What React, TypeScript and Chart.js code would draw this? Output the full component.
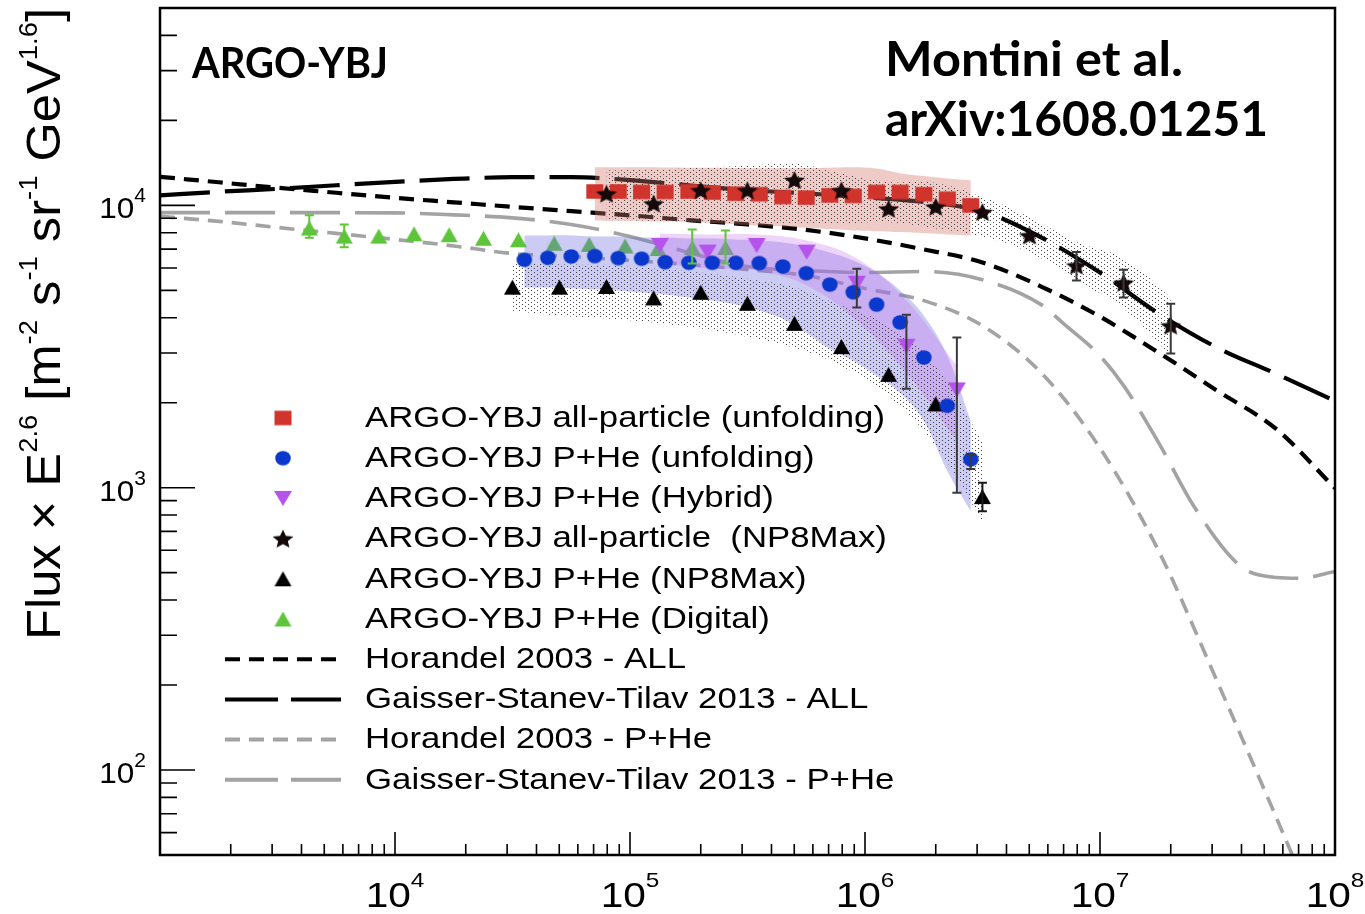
import React, { useEffect, useRef } from "react";
import { Chart, registerables } from "chart.js";

Chart.register(...registerables);

const W = 1365;
const H = 914;

// ---------- axis ranges ----------
const X_MIN = 1e3;
const X_MAX = 1e8;
const Y_MIN = 50;
const Y_MAX = 5e4;
const xDecades = [4, 5, 6, 7, 8];
const yDecades = [2, 3, 4];

// ---------- model curves (E in GeV, Flux × E^2.6) ----------
const modelE = [1e3, 1.78e3, 3.16e3, 5.62e3, 1e4, 1.78e4, 3.16e4, 5.62e4, 1e5, 1.78e5, 3.16e5, 5.62e5, 1e6, 1.78e6, 3.16e6, 5.62e6, 1e7, 1.78e7, 3.16e7, 5.62e7, 1e8];
const horandelAll = [12620, 12070, 11540, 11080, 10630, 10250, 9880, 9540, 9215, 8860, 8560, 8185, 7636, 6980, 6275, 5156, 4034, 3005, 2202, 1614, 996];
const gstAll = [10850, 11170, 11440, 11780, 12110, 12400, 12580, 12580, 12290, 11780, 11310, 11030, 10670, 10290, 9520, 7695, 5780, 4133, 3130, 2531, 2029];
const horandelPHe = [9140, 8775, 8350, 7955, 7573, 7180, 6753, 6590, 6378, 6172, 5925, 5641, 5073, 4598, 3748, 2551, 1381, 595, 205, 68, 22];
const gstPHeE = [1e3, 1.78e3, 3.16e3, 5.62e3, 1e4, 1.78e4, 3.16e4, 5.62e4, 1e5, 1.78e5, 3.16e5, 5.62e5, 1e6, 1.78e6, 3.16e6, 5.62e6, 7.08e6, 1e7, 1.26e7, 1.78e7, 2.51e7, 3.98e7, 5.62e7, 7.08e7, 1e8];
const gstPHe = [9420, 9420, 9420, 9420, 9405, 9254, 9030, 8560, 7760, 6808, 6072, 5876, 5781, 5829, 5450, 4450, 3777, 2930, 2300, 1439, 859, 526, 481, 478, 505];

// ---------- ARGO-YBJ all-particle (unfolding) ----------
const allUnfoldE = [7.08e4, 8.91e4, 1.12e5, 1.41e5, 1.78e5, 2.24e5, 2.82e5, 3.55e5, 4.47e5, 5.62e5, 7.08e5, 8.91e5, 1.12e6, 1.41e6, 1.78e6, 2.24e6, 2.82e6];
const allUnfoldF = [11200, 11200, 11150, 11150, 11200, 11100, 11000, 10950, 10700, 10650, 10850, 10800, 11150, 11150, 10950, 10550, 10000];
const allUnfoldHi = [13640, 13640, 13640, 13620, 13600, 13580, 13560, 13530, 13530, 13560, 13600, 13640, 13500, 13000, 12700, 12450, 12270];
const allUnfoldLo = [8845, 8820, 8790, 8760, 8723, 8650, 8560, 8480, 8421, 8330, 8240, 8152, 8100, 8040, 7960, 7890, 7823];

// ---------- ARGO-YBJ P+He (unfolding) ----------
const pheUnfoldE = [3.55e4, 4.47e4, 5.62e4, 7.08e4, 8.91e4, 1.12e5, 1.41e5, 1.78e5, 2.24e5, 2.82e5, 3.55e5, 4.47e5, 5.62e5, 7.08e5, 8.91e5, 1.12e6, 1.41e6, 1.78e6, 2.24e6, 2.82e6];
const pheUnfoldF = [6410, 6520, 6590, 6610, 6500, 6470, 6290, 6260, 6260, 6260, 6240, 6070, 5750, 5240, 4920, 4450, 3850, 2890, 1950, 1260];
const pheUnfoldHi = [7823, 7823, 7823, 7760, 7760, 7696, 7696, 7634, 7634, 7572, 7510, 7390, 7150, 6810, 6377, 5780, 4990, 4066, 2932, 1722];
const pheUnfoldLo = [5113, 5113, 5073, 5031, 4990, 4909, 4830, 4712, 4598, 4450, 4236, 3968, 3538, 3105, 2813, 2489, 2167, 1722, 1145, 825];
const pheUnfoldErrHi = [null, null, null, null, null, null, null, null, null, null, null, null, null, null, null, null, null, null, null, 1315];
const pheUnfoldErrLo = [null, null, null, null, null, null, null, null, null, null, null, null, null, null, null, null, null, null, null, 1164];

// ---------- ARGO-YBJ P+He (Hybrid) ----------
const hybridE = [1.34e5, 2.14e5, 3.46e5, 5.65e5, 9.23e5, 1.50e6, 2.46e6];
const hybridF = [7210, 6830, 7210, 6830, 5300, 3170, 2220];
const hybridHi = [7954, 7890, 7890, 7510, 6480, 4598, 2702];
const hybridLo = [6272, 5972, 5880, 5197, 3904, 2551, 1463];
const hybridErrHi = [null, null, null, null, 5960, 4100, 3400];
const hybridErrLo = [null, null, null, null, 4350, 2240, 960];

// ---------- ARGO-YBJ all-particle (NP8Max) ----------
const allNp8E = [7.94e4, 1.26e5, 2.0e5, 3.16e5, 5.01e5, 7.94e5, 1.26e6, 2.0e6, 3.16e6, 5.01e6, 7.94e6, 1.26e7, 2.0e7];
const allNp8F = [11000, 10150, 11300, 11300, 12300, 11300, 9730, 9890, 9470, 7820, 6120, 5320, 3750];
const allNp8Hi = [13310, 13400, 13600, 13800, 14060, 12960, 12100, 12000, 10700, 9090, 7410, 6490, 4720];
const allNp8Lo = [8850, 8800, 8700, 8650, 8610, 8620, 8720, 8280, 7760, 6820, 5420, 4300, 2930];
const allNp8ErrHi = [null, null, null, null, null, null, null, null, null, null, 6830, 5910, 4480];
const allNp8ErrLo = [null, null, null, null, null, null, null, null, null, null, 5420, 4720, 2990];

// ---------- ARGO-YBJ P+He (NP8Max) ----------
const pheNp8E = [3.16e4, 5.01e4, 7.94e4, 1.26e5, 2.0e5, 3.16e5, 5.01e5, 7.94e5, 1.26e6, 2.0e6, 3.16e6];
const pheNp8F = [5130, 5130, 5160, 4700, 4920, 4500, 3820, 3160, 2520, 1980, 930];
const pheNp8Hi = [6223, 6180, 6120, 5980, 5780, 5500, 5120, 4415, 3750, 2700, 1465];
const pheNp8Lo = [4236, 4066, 3970, 3840, 3660, 3420, 3130, 2700, 2110, 1405, 760];
const pheNp8ErrHi = [null, null, null, null, null, null, null, null, null, null, 1040];
const pheNp8ErrLo = [null, null, null, null, null, null, null, null, null, null, 825];

// ---------- ARGO-YBJ P+He (Digital) ----------
const digitalE = [4.32e3, 6.08e3, 8.53e3, 1.205e4, 1.70e4, 2.38e4, 3.35e4, 4.76e4, 6.70e4, 9.53e4, 1.315e5, 1.84e5, 2.55e5];
const digitalF = [8310, 7780, 7780, 7930, 7870, 7650, 7550, 7340, 7270, 7180, 7030, 7090, 7090];
const digitalErrHi = [9220, 8560, null, null, null, null, null, null, null, null, null, 8220, 8150];
const digitalErrLo = [7680, 7110, null, null, null, null, null, null, null, null, null, 6220, 6220];

// ---------- legend ----------
const legendLabels = [
  "ARGO-YBJ all-particle (unfolding)",
  "ARGO-YBJ P+He (unfolding)",
  "ARGO-YBJ P+He (Hybrid)",
  "ARGO-YBJ all-particle  (NP8Max)",
  "ARGO-YBJ P+He (NP8Max)",
  "ARGO-YBJ P+He (Digital)",
  "Horandel 2003 - ALL",
  "Gaisser-Stanev-Tilav 2013 - ALL",
  "Horandel 2003 - P+He",
  "Gaisser-Stanev-Tilav 2013 - P+He",
];

const RED = "#d0342c";
const BLUE = "#0a37cc";
const PURPLE = "#b653ec";
const GREEN = "#5ec43a";
const BLACK = "#140808";
const GRAY = "#a3a3a3";
const SANS = '"Liberation Sans", Arial, Helvetica, sans-serif';
const CAL = 'Lato, "Open Sans", sans-serif';

const SHORT_DASH = [15, 9];
const LONG_DASH = [50, 15];

type Shape = "square" | "circle" | "up" | "down" | "star";

function makeMarker(shape: Shape, w: number, h: number, color: string): HTMLCanvasElement {
  const c = document.createElement("canvas");
  c.width = Math.ceil(w) + 2;
  c.height = Math.ceil(h) + 2;
  const g = c.getContext("2d")!;
  g.fillStyle = color;
  const cx = c.width / 2;
  const cy = c.height / 2;
  g.beginPath();
  if (shape === "square") {
    g.rect(cx - w / 2, cy - h / 2, w, h);
  } else if (shape === "circle") {
    g.ellipse(cx, cy, w / 2, h / 2, 0, 0, Math.PI * 2);
  } else if (shape === "up") {
    g.moveTo(cx, cy - h / 2);
    g.lineTo(cx + w / 2, cy + h / 2);
    g.lineTo(cx - w / 2, cy + h / 2);
  } else if (shape === "down") {
    g.moveTo(cx - w / 2, cy - h / 2);
    g.lineTo(cx + w / 2, cy - h / 2);
    g.lineTo(cx, cy + h / 2);
  } else {
    for (let i = 0; i < 10; i++) {
      const r = i % 2 === 0 ? 1 : 0.46;
      const a = -Math.PI / 2 + (i * Math.PI) / 5;
      g.lineTo(cx + (r * w * Math.cos(a)) / 2, cy + (r * h * Math.sin(a)) / 2 + h * 0.05);
    }
  }
  g.closePath();
  g.fill();
  return c;
}

function makeStipple(ctx: CanvasRenderingContext2D): CanvasPattern {
  const c = document.createElement("canvas");
  c.width = 6;
  c.height = 4;
  const g = c.getContext("2d")!;
  g.fillStyle = "rgba(40,40,40,0.85)";
  g.fillRect(0, 0, 1, 1);
  g.fillRect(3, 2, 1, 1);
  return ctx.createPattern(c, "repeat")!;
}

const pts = (xs: number[], ys: number[]) => xs.map((x, i) => ({ x, y: ys[i] }));

function band(hi: any[], lo: any[], fill: any, order: number) {
  const common = {
    borderWidth: 0,
    borderColor: "rgba(0,0,0,0)",
    pointRadius: 0,
    tension: 0.4,
    order,
  };
  return [
    { ...common, data: hi, fill: "+1", backgroundColor: fill },
    { ...common, data: lo, fill: false },
  ];
}

function modelLine(data: any[], color: string, dash: number[], width: number) {
  return {
    data,
    borderColor: color,
    borderWidth: width,
    borderDash: dash,
    pointRadius: 0,
    fill: false,
    cubicInterpolationMode: "monotone",
    order: 50,
  };
}

function markerSet(data: any[], img: HTMLCanvasElement, order: number) {
  return {
    data,
    showLine: false,
    pointStyle: img,
    pointRadius: 6,
    fill: false,
    order,
  };
}

// text drawn with an optional horizontal stretch
function stretchText(ctx: CanvasRenderingContext2D, text: string, x: number, y: number, font: string, sx: number) {
  ctx.save();
  ctx.font = font;
  ctx.translate(x, y);
  ctx.scale(sx, 1);
  ctx.fillText(text, 0, 0);
  ctx.restore();
}

function fitText(ctx: CanvasRenderingContext2D, text: string, x: number, y: number, font: string, width: number) {
  ctx.save();
  ctx.font = font;
  const m = ctx.measureText(text).width;
  ctx.restore();
  stretchText(ctx, text, x, y, font, width / m);
}

// "10" with exponent; anchor is the horizontal center or right edge of the whole label
function powerLabel(
  ctx: CanvasRenderingContext2D,
  exp: string,
  x: number,
  baseY: number,
  size: number,
  supSize: number,
  supY: number,
  sx: number,
  anchor: "center" | "right"
) {
  ctx.save();
  ctx.font = `${size}px ${SANS}`;
  const wb = ctx.measureText("10").width * sx;
  ctx.font = `${supSize}px ${SANS}`;
  const we = ctx.measureText(exp).width * sx;
  ctx.restore();
  const total = wb + we;
  const x0 = anchor === "center" ? x - total / 2 : x - total;
  stretchText(ctx, "10", x0, baseY, `${size}px ${SANS}`, sx);
  stretchText(ctx, exp, x0 + wb, supY, `${supSize}px ${SANS}`, sx);
}

export default function App() {
  const ref = useRef<HTMLCanvasElement>(null);

  useEffect(() => {
    const canvas = ref.current!;
    const ctx = canvas.getContext("2d")!;
    const stipple = makeStipple(ctx);

    const mkSquare = makeMarker("square", 17, 14.5, RED);
    const mkCircle = makeMarker("circle", 15.5, 14.5, BLUE);
    const mkDown = makeMarker("down", 18, 15, PURPLE);
    const mkStar = makeMarker("star", 22, 20, BLACK);
    const mkBlackUp = makeMarker("up", 17, 15, "#000000");
    const mkGreenUp = makeMarker("up", 17, 15, GREEN);

    const errorGroups = [
      { e: allNp8E, hi: allNp8ErrHi, lo: allNp8ErrLo, color: "#3a3a3a" },
      { e: hybridE, hi: hybridErrHi, lo: hybridErrLo, color: "#3a3a3a" },
      { e: pheUnfoldE, hi: pheUnfoldErrHi, lo: pheUnfoldErrLo, color: "#3a3a3a" },
      { e: pheNp8E, hi: pheNp8ErrHi, lo: pheNp8ErrLo, color: "#1a1a1a" },
      { e: digitalE, hi: digitalErrHi, lo: digitalErrLo, color: GREEN },
    ];

    const decor = {
      id: "decor",
      afterDatasetsDraw(chart: any) {
        const c = chart.ctx as CanvasRenderingContext2D;
        const xs = chart.scales.x;
        const ys = chart.scales.y;
        c.save();
        c.lineWidth = 2;
        for (const g of errorGroups) {
          c.strokeStyle = g.color;
          g.e.forEach((e: number, i: number) => {
            const hi = g.hi[i];
            const lo = g.lo[i];
            if (hi == null || lo == null) return;
            const px = xs.getPixelForValue(e);
            const y1 = ys.getPixelForValue(hi);
            const y2 = ys.getPixelForValue(lo);
            c.beginPath();
            c.moveTo(px, y1);
            c.lineTo(px, y2);
            c.moveTo(px - 4.5, y1);
            c.lineTo(px + 4.5, y1);
            c.moveTo(px - 4.5, y2);
            c.lineTo(px + 4.5, y2);
            c.stroke();
          });
        }
        c.restore();
      },
      afterDraw(chart: any) {
        const c = chart.ctx as CanvasRenderingContext2D;
        const xs = chart.scales.x;
        const ys = chart.scales.y;
        const a = chart.chartArea;
        c.save();

        // frame
        c.strokeStyle = "#000";
        c.lineWidth = 2.5;
        c.strokeRect(a.left, a.top, a.right - a.left, a.bottom - a.top);

        // ticks, pointing into the frame
        c.lineWidth = 1.6;
        c.beginPath();
        for (let d = 1; d <= 4; d++) {
          for (let m = 1; m <= 9; m++) {
            const v = m * Math.pow(10, d);
            if (v < Y_MIN || v > Y_MAX) continue;
            const py = ys.getPixelForValue(v);
            c.moveTo(a.left, py);
            c.lineTo(a.left + (m === 1 ? 35 : 17), py);
          }
        }
        for (let d = 3; d <= 8; d++) {
          for (let m = 1; m <= 9; m++) {
            const v = m * Math.pow(10, d);
            if (v < X_MIN || v > X_MAX) continue;
            const px = xs.getPixelForValue(v);
            c.moveTo(px, a.bottom);
            c.lineTo(px, a.bottom - (m === 1 ? 23 : 11));
          }
        }
        c.stroke();

        // tick labels
        c.fillStyle = "#000";
        c.textBaseline = "alphabetic";
        for (const d of xDecades) {
          const px = xs.getPixelForValue(Math.pow(10, d));
          powerLabel(c, String(d), px, 907, 35, 21, 887, 1.16, "center");
        }
        for (const d of yDecades) {
          const py = ys.getPixelForValue(Math.pow(10, d));
          powerLabel(c, String(d), 146, py + 13, 30, 20, py - 3, 1.05, "right");
        }

        // axis title, rotated
        {
          const parts: { t: string; sup?: boolean }[] = [
            { t: "Flux × E" },
            { t: "2.6", sup: true },
            { t: " [m" },
            { t: "-2", sup: true },
            { t: " s" },
            { t: "-1", sup: true },
            { t: " sr" },
            { t: "-1", sup: true },
            { t: " GeV" },
            { t: "1.6", sup: true },
            { t: "]" },
          ];
          const big = `48px ${SANS}`;
          const small = `26px ${SANS}`;
          let total = 0;
          for (const p of parts) {
            c.font = p.sup ? small : big;
            total += c.measureText(p.t).width;
          }
          const sx = 632 / total;
          c.save();
          c.translate(60, 640);
          c.rotate(-Math.PI / 2);
          c.scale(sx, 1);
          let cx = 0;
          for (const p of parts) {
            c.font = p.sup ? small : big;
            c.fillText(p.t, cx, p.sup ? -23 : 0);
            cx += c.measureText(p.t).width;
          }
          c.restore();
        }

        // overlay titles
        fitText(c, "ARGO-YBJ", 192, 78, `bold 42px ${CAL}`, 196);
        fitText(c, "Montini et al.", 885, 76, `bold 47px ${CAL}`, 298);
        fitText(c, "arXiv:1608.01251", 885, 136, `bold 47px ${CAL}`, 383);

        // legend
        const legFont = `30px ${SANS}`;
        c.font = legFont;
        const legSx = 520 / c.measureText(legendLabels[0]).width;
        const markerImgs = [mkSquare, mkCircle, mkDown, mkStar, mkBlackUp, mkGreenUp];
        const lineStyles = [
          { color: "#000", dash: SHORT_DASH },
          { color: "#000", dash: [53, 13] },
          { color: GRAY, dash: SHORT_DASH },
          { color: GRAY, dash: [53, 13] },
        ];
        legendLabels.forEach((label, i) => {
          const cy = 418 + 40.2 * i;
          if (i < 6) {
            const img = markerImgs[i];
            c.drawImage(img, 283 - img.width / 2, cy - img.height / 2);
          } else {
            const s = lineStyles[i - 6];
            c.save();
            c.strokeStyle = s.color;
            c.lineWidth = 4;
            c.setLineDash(s.dash);
            c.beginPath();
            c.moveTo(225, cy);
            c.lineTo(341, cy);
            c.stroke();
            c.restore();
          }
          c.fillStyle = "#000";
          stretchText(c, label, 365, 426.7 + 40.2 * i, legFont, legSx);
        });

        c.restore();
      },
    };

    const datasets: any[] = [
      modelLine(pts(modelE, horandelAll), "#000", SHORT_DASH, 4.2),
      modelLine(pts(modelE, gstAll), "#000", LONG_DASH, 4.2),
      modelLine(pts(modelE, horandelPHe), GRAY, SHORT_DASH, 3.6),
      modelLine(pts(gstPHeE, gstPHe), GRAY, LONG_DASH, 3.6),
      markerSet(pts(digitalE, digitalF), mkGreenUp, 45),
      ...band(pts(allUnfoldE, allUnfoldHi), pts(allUnfoldE, allUnfoldLo), "rgba(212,118,108,0.38)", 40),
      ...band(pts(pheUnfoldE, pheUnfoldHi), pts(pheUnfoldE, pheUnfoldLo), "rgba(112,112,222,0.36)", 38),
      ...band(pts(hybridE, hybridHi), pts(hybridE, hybridLo), "rgba(200,110,240,0.30)", 37),
      ...band(pts(allNp8E, allNp8Hi), pts(allNp8E, allNp8Lo), stipple, 35),
      ...band(pts(pheNp8E, pheNp8Hi), pts(pheNp8E, pheNp8Lo), stipple, 34),
      markerSet(pts(pheNp8E, pheNp8F), mkBlackUp, 8),
      markerSet(pts(hybridE, hybridF), mkDown, 7),
      markerSet(pts(pheUnfoldE, pheUnfoldF), mkCircle, 6),
      markerSet(pts(allUnfoldE, allUnfoldF), mkSquare, 5),
      markerSet(pts(allNp8E, allNp8F), mkStar, 3),
    ];

    const chart = new Chart(canvas, {
      type: "line",
      data: { datasets },
      options: {
        responsive: false,
        animation: false,
        devicePixelRatio: 1,
        events: [],
        layout: { padding: { left: 160, right: 30, top: 8, bottom: 59 } },
        scales: {
          x: { type: "logarithmic", min: X_MIN, max: X_MAX, display: false },
          y: { type: "logarithmic", min: Y_MIN, max: Y_MAX, display: false },
        },
        plugins: {
          legend: { display: false },
          tooltip: { enabled: false },
        },
      },
      plugins: [decor],
    } as any);

    return () => chart.destroy();
  }, []);

  return (
    <div style={{ position: "fixed", left: 0, top: 0, width: W, height: H, background: "#fff" }}>
      <canvas ref={ref} width={W} height={H} style={{ display: "block", width: W, height: H }} />
    </div>
  );
}
